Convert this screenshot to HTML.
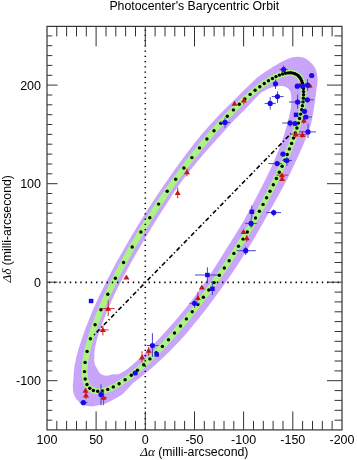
<!DOCTYPE html>
<html><head><meta charset="utf-8"><title>Photocenter's Barycentric Orbit</title>
<style>html,body{margin:0;padding:0;background:#fff;}svg{display:block;}</style></head>
<body><svg xmlns="http://www.w3.org/2000/svg" width="357" height="460" viewBox="0 0 357 460"><path d="M72.84 386.57 L73.00 390.18 L73.34 392.39 L73.70 393.90 L74.88 396.79 L76.59 399.40 L78.78 401.62 L81.26 403.32 L84.93 405.09 L86.57 405.68 L88.27 406.10 L91.30 406.38 L95.03 406.10 L101.06 404.79 L104.14 403.88 L107.27 402.66 L110.68 401.04 L117.17 397.52 L121.26 395.03 L122.73 393.88 L124.63 391.97 L133.02 382.94 L139.72 377.97 L145.89 373.04 L152.11 367.73 L159.51 361.05 L168.98 351.95 L178.87 341.79 L183.74 336.55 L185.91 334.03 L198.44 318.83 L209.08 305.15 L219.67 290.82 L228.21 278.71 L235.69 267.69 L243.76 255.33 L250.84 244.05 L259.14 229.86 L264.71 219.89 L269.01 211.89 L278.43 195.57 L285.58 182.35 L290.20 173.21 L293.90 165.55 L297.26 158.28 L302.50 146.41 L305.37 139.58 L307.99 132.91 L310.81 125.07 L312.50 117.10 L314.95 101.77 L315.43 97.50 L316.20 92.26 L316.53 88.63 L317.34 83.73 L317.59 80.02 L317.39 76.56 L316.98 73.84 L316.19 70.72 L315.35 68.58 L314.20 66.58 L312.00 63.79 L309.88 61.64 L307.78 59.90 L306.01 58.78 L303.90 57.83 L302.22 57.31 L299.94 56.93 L297.42 56.85 L294.53 57.04 L291.60 57.55 L289.42 58.19 L286.85 59.23 L281.21 62.09 L273.93 66.26 L264.25 72.43 L257.50 77.27 L253.52 80.95 L248.58 85.83 L243.05 91.05 L233.99 100.27 L224.99 109.00 L217.51 116.72 L209.83 125.04 L202.11 133.82 L195.42 142.11 L185.97 154.36 L176.47 167.24 L163.45 185.83 L155.09 198.21 L146.13 212.05 L136.71 227.33 L124.36 248.23 L115.90 263.25 L107.38 279.39 L99.08 296.33 L92.98 309.85 L88.13 321.63 L85.58 328.36 L81.14 340.92 L78.28 349.70 L75.97 358.61 L74.37 367.05 L73.79 372.13 L73.29 380.76 L72.88 384.61ZM94.20 360.42 L94.34 354.05 L94.83 348.86 L96.70 340.17 L98.39 334.71 L101.80 324.82 L106.23 313.37 L111.44 301.12 L116.65 289.85 L124.04 275.45 L131.34 262.09 L138.36 249.86 L151.49 227.78 L158.24 216.74 L166.08 204.42 L173.25 193.57 L181.49 181.59 L189.06 171.84 L196.93 162.11 L204.79 152.77 L212.52 143.95 L233.08 121.34 L240.06 114.13 L247.55 106.84 L254.24 99.56 L260.15 93.56 L262.59 91.83 L266.21 89.63 L269.70 88.09 L274.17 86.67 L277.23 86.26 L280.59 86.04 L282.32 86.06 L284.73 86.48 L285.99 86.97 L287.15 87.64 L288.53 88.80 L289.64 90.20 L290.46 91.80 L290.95 93.53 L291.27 96.74 L291.35 100.33 L291.17 104.69 L290.79 108.66 L289.79 113.72 L288.38 119.62 L286.19 127.79 L283.97 135.20 L280.77 144.75 L275.28 158.22 L269.83 170.41 L262.81 184.74 L251.57 206.40 L243.20 221.68 L234.20 236.59 L225.81 249.78 L216.82 264.29 L208.89 276.49 L201.70 286.81 L191.54 300.73 L185.99 307.79 L174.63 321.44 L164.25 333.12 L158.83 338.91 L148.82 349.24 L140.28 357.70 L131.45 365.72 L124.24 371.18 L120.09 373.50 L118.92 373.97 L117.69 374.26 L116.43 374.38 L113.52 374.30 L112.02 374.41 L110.68 374.68 L108.17 375.46 L106.83 375.66 L105.04 375.60 L102.88 375.03 L100.92 373.95 L99.28 372.42 L98.51 371.32 L97.34 368.95 L95.72 366.35 L95.16 365.14 L94.77 363.77Z" fill="#c8a4fa" fill-rule="evenodd"/>
<path d="M90.5 338.5 L91.2 336.4 L91.8 334.3 L92.5 332.2 L93.3 330.0 L94.0 327.8 L94.8 325.5 L95.6 323.3 L96.5 321.0 L97.4 318.7 L98.3 316.3 L99.2 313.9 L100.2 311.6 L101.2 309.1 L102.2 306.7 L103.3 304.2 L104.4 301.7 L105.5 299.2 L106.6 296.7 L107.8 294.1 L109.0 291.6 L110.2 289.0 L111.4 286.4 L112.7 283.8 L114.0 281.1 L115.3 278.5 L116.6 275.8 L118.0 273.1 L119.4 270.4 L120.8 267.7 L122.2 265.0 L123.7 262.3 L125.2 259.6 L126.7 256.8 L128.2 254.1 L129.7 251.3 L131.3 248.6 L132.8 245.8 L134.4 243.0 L136.1 240.2 L137.7 237.5 L139.3 234.7 L141.0 231.9 L142.7 229.1 L144.4 226.4 L146.1 223.6 L147.8 220.8 L149.5 218.0 L151.3 215.3 L153.1 212.5 L154.8 209.7 L156.6 207.0 L158.4 204.3 L160.3 201.5 L162.1 198.8 L163.9 196.1 L165.8 193.4 L167.6 190.7 L169.5 188.0 L171.3 185.4 L173.2 182.7 L175.1 180.1 L177.0 177.5 L178.9 174.9 L180.8 172.3 L182.7 169.7 L184.6 167.2 L186.5 164.6 L188.4 162.1 L190.3 159.6 L192.2 157.2 L194.1 154.7 L196.0 152.3 L197.9 149.9 L199.8 147.5 L201.7 145.2 L203.6 142.9 L205.6 140.6 L207.5 138.3 L209.3 136.1 L211.2 133.9 L213.1 131.7 L215.0 129.6 L216.9 127.5 L218.7 125.4 L220.6 123.3 L222.5 121.3 L224.3 119.4 L226.1 117.4 L227.9 115.5 L229.8 113.6 L231.6 111.8 L233.4 110.0 L235.1 108.2 L236.9 106.5 L238.7 104.8 L240.4 103.1 L242.1 101.5 L243.8 100.0 L245.5 98.4 L247.2 96.9 L248.9 95.5 L250.5 94.1 L252.1 92.7 L253.8 91.4 L255.3 90.1 L256.9 88.9 L258.5 87.7 L260.0 86.5 L261.5 85.4 L263.0 84.4 L264.5 83.3 L266.0 82.4 L267.4 81.5 L268.8 80.6 L270.2 79.7 L271.5 79.0 L272.9 78.2 L274.2 77.5 L275.5 76.9 L276.8 76.3 L278.0 75.7 L279.2 75.2 L280.4 74.8 L281.6 74.4 L282.7 74.0 L283.8 73.7 L284.9 73.4 L286.0 73.2 L287.0 73.0 L288.0 72.9 L288.9 72.8 L289.9 72.8 L290.8 72.9 L291.7 72.9 L292.5 73.1 L293.4 73.2 L294.2 73.4 L294.9 73.7 L295.6 74.0 L296.3 74.4 L297.0 74.8 L297.7 75.3 L298.3 75.8 L298.8 76.3 L299.4 76.9 L299.9 77.6 L300.4 78.3 L300.8 79.0 L301.2 79.8 L301.6 80.7 L302.0 81.6 L302.3 82.5 L302.5 83.5 L302.8 84.5 L303.0 85.5 L303.2 86.7 L303.3 87.8 L303.5 89.0 L303.5 90.3 L303.6 91.5 L303.6 92.9 L303.6 94.2 L303.5 95.7 L303.5 97.1 L303.3 98.6 L303.2 100.1 L303.0 101.7 L302.8 103.3 L302.5 105.0 L302.3 106.7 L301.9 108.4 L301.6 110.2 L301.2 112.0 L300.8 113.8 L300.3 115.7 L299.9 117.6 L299.4 119.6 L298.8 121.6 L298.2 123.6 L297.6 125.6 L297.0 127.7 L296.3 129.8 L295.6 132.0 L294.9 134.2 L294.1 136.4 L293.3 138.6 L292.5 140.9 L291.7 143.2 L290.8 145.5 L289.9 147.8 L288.9 150.2 L287.9 152.6 L287.0 155.0 L285.9 157.5 L284.9 159.9 L283.8 162.4 L282.7 164.9 L281.5 167.4 L280.4 170.0 L279.2 172.6 L278.0 175.2 L276.7 177.8 L275.5 180.4 L274.2 183.0 L272.8 185.7 L271.5 188.3 L270.1 191.0 L268.8 193.7 L267.3 196.4 L265.9 199.1 L264.5 201.8 L263.0 204.6 L261.5 207.3 L260.0 210.1 L258.4 212.8 L256.9 215.6 L255.3 218.4 L253.7 221.1 L252.1 223.9 L250.5 226.7 L248.8 229.5 L247.2 232.2 L245.5 235.0 L243.8 237.8 L242.1 240.6 L240.3 243.3 L238.6 246.1 L236.8 248.9 L235.1 251.6 L233.3 254.4 L231.5 257.1 L229.7 259.9 L227.9 262.6 L226.1 265.3 L224.2 268.0 L222.4 270.8 L220.5 273.4 L218.7 276.1 L216.8 278.8 L214.9 281.4 L213.1 284.1 L211.2 286.7 L209.3 289.3 L207.4 291.9 L205.5 294.4 L203.6 297.0 L201.7 299.5 L199.8 302.0 L197.9 304.5 L196.0 307.0 L194.0 309.4 L192.1 311.8 L190.2 314.2 L188.3 316.6 L186.4 318.9 L184.5 321.3 L182.6 323.5 L180.7 325.8 L178.8 328.0 L176.9 330.2 L175.0 332.4 L173.1 334.6 L171.3 336.7 L169.4 338.7 L167.5 340.8 L165.7 342.8 L163.9 344.8 L162.0 346.7 L160.2 348.6 L158.4 350.5 L156.6 352.4 L154.8 354.2 L153.0 355.9 L151.2 357.7 L149.5 359.3 L147.8 361.0 L146.0 362.6 L144.3 364.2 L142.6 365.7 L140.9 367.2 L139.3 368.7 L137.6 370.1 L136.0 371.4 L134.4 372.8 L132.8 374.0 L131.2 375.3 L129.7 376.5 L128.1 377.6 L126.6 378.7 L125.1 379.8 L123.6 380.8 L122.2 381.8 L120.8 382.7 L119.4 383.6 L118.0 384.4 L116.6 385.2 L115.3 385.9 L113.9 386.6 L112.7 387.3 L111.4 387.9 L110.1 388.4 L108.9 388.9 L107.7 389.4 L106.6 389.8 L105.4 390.1 L104.3 390.5 L103.2 390.7 L102.2 390.9 L101.2 391.1 L100.2 391.2 L99.2 391.3 L98.3 391.3 L97.3 391.3 L96.5 391.2 L95.6 391.1 L94.8 390.9 L94.0 390.7 L93.2 390.4 L92.5 390.1 L91.8 389.7 L91.1 389.3 L90.5 388.9 L89.9 388.4 L89.3 387.8 L88.8 387.2 L88.3 386.5 L87.8 385.8 L87.3 385.1 L86.9 384.3 L86.5 383.5 L86.2 382.6 L85.9 381.7 L85.6 380.7 L85.4 379.7 L85.1 378.6 L85.0 377.5 L84.8 376.3 L84.7 375.1 L84.6 373.9 L84.6 372.6 L84.5 371.3 L84.6 369.9 L84.6 368.5 L84.7 367.0 L84.8 365.5 L85.0 364.0 L85.1 362.4 L85.4 360.8 L85.6 359.2 L85.9 357.5 L86.2 355.7 L86.6 354.0 L86.9 352.1 L87.4 350.3 L87.8 348.4 L88.3 346.5 L88.8 344.6 L89.3 342.6 L89.9 340.6 Z" fill="none" stroke="#aaf582" stroke-width="6"/>
<line x1="47" y1="282.4" x2="342" y2="282.4" stroke="#000" stroke-width="1.6" stroke-dasharray="1.4 3.85" stroke-dashoffset="-1.8"/>
<line x1="145.3" y1="26.4" x2="145.3" y2="430" stroke="#000" stroke-width="1.6" stroke-dasharray="1.4 3.85" stroke-dashoffset="-3"/>
<line x1="94.0" y1="335.0" x2="291.0" y2="133.6" stroke="#000" stroke-width="1.6" stroke-dasharray="1.3 2.4 4.4 2.3"/>
<g fill="#000"><circle cx="90.4" cy="338.8" r="1.7"/><circle cx="95.1" cy="324.8" r="1.7"/><circle cx="100.9" cy="309.8" r="1.7"/><circle cx="107.8" cy="294.2" r="1.7"/><circle cx="115.4" cy="278.3" r="1.7"/><circle cx="123.6" cy="262.5" r="1.7"/><circle cx="132.2" cy="247.0" r="1.7"/><circle cx="140.9" cy="232.0" r="1.7"/><circle cx="149.8" cy="217.7" r="1.7"/><circle cx="158.6" cy="204.1" r="1.7"/><circle cx="167.2" cy="191.3" r="1.7"/><circle cx="175.7" cy="179.3" r="1.7"/><circle cx="183.9" cy="168.0" r="1.7"/><circle cx="191.9" cy="157.6" r="1.7"/><circle cx="199.5" cy="147.9" r="1.7"/><circle cx="206.9" cy="139.0" r="1.7"/><circle cx="214.0" cy="130.7" r="1.7"/><circle cx="220.8" cy="123.2" r="1.7"/><circle cx="227.3" cy="116.2" r="1.7"/><circle cx="233.4" cy="109.9" r="1.7"/><circle cx="239.3" cy="104.2" r="1.7"/><circle cx="244.9" cy="99.0" r="1.7"/><circle cx="250.1" cy="94.4" r="1.7"/><circle cx="255.1" cy="90.3" r="1.7"/><circle cx="259.8" cy="86.7" r="1.7"/><circle cx="264.3" cy="83.5" r="1.7"/><circle cx="268.5" cy="80.8" r="1.7"/><circle cx="272.4" cy="78.5" r="1.7"/><circle cx="276.0" cy="76.6" r="1.7"/><circle cx="279.4" cy="75.1" r="1.7"/><circle cx="282.6" cy="74.0" r="1.7"/><circle cx="285.5" cy="73.3" r="1.7"/><circle cx="288.2" cy="72.9" r="1.7"/><circle cx="290.7" cy="72.8" r="1.7"/><circle cx="292.9" cy="73.1" r="1.7"/><circle cx="294.9" cy="73.7" r="1.7"/><circle cx="296.7" cy="74.6" r="1.7"/><circle cx="298.3" cy="75.8" r="1.7"/><circle cx="299.6" cy="77.3" r="1.7"/><circle cx="300.8" cy="79.0" r="1.7"/><circle cx="301.7" cy="81.0" r="1.7"/><circle cx="302.5" cy="83.3" r="1.7"/><circle cx="303.1" cy="85.8" r="1.7"/><circle cx="303.4" cy="88.6" r="1.7"/><circle cx="303.6" cy="91.6" r="1.7"/><circle cx="303.6" cy="94.8" r="1.7"/><circle cx="303.4" cy="98.2" r="1.7"/><circle cx="303.0" cy="101.9" r="1.7"/><circle cx="302.4" cy="105.7" r="1.7"/><circle cx="301.7" cy="109.8" r="1.7"/><circle cx="300.7" cy="114.1" r="1.7"/><circle cx="299.6" cy="118.5" r="1.7"/><circle cx="298.4" cy="123.1" r="1.7"/><circle cx="296.9" cy="128.0" r="1.7"/><circle cx="295.3" cy="132.9" r="1.7"/><circle cx="293.5" cy="138.1" r="1.7"/><circle cx="291.6" cy="143.4" r="1.7"/><circle cx="289.4" cy="148.9" r="1.7"/><circle cx="287.2" cy="154.5" r="1.7"/><circle cx="284.7" cy="160.3" r="1.7"/><circle cx="282.1" cy="166.2" r="1.7"/><circle cx="279.3" cy="172.3" r="1.7"/><circle cx="276.4" cy="178.5" r="1.7"/><circle cx="273.3" cy="184.8" r="1.7"/><circle cx="270.0" cy="191.2" r="1.7"/><circle cx="266.6" cy="197.7" r="1.7"/><circle cx="263.1" cy="204.4" r="1.7"/><circle cx="259.4" cy="211.2" r="1.7"/><circle cx="255.5" cy="218.0" r="1.7"/><circle cx="251.5" cy="224.9" r="1.7"/><circle cx="247.3" cy="232.0" r="1.7"/><circle cx="243.0" cy="239.1" r="1.7"/><circle cx="238.5" cy="246.2" r="1.7"/><circle cx="233.9" cy="253.4" r="1.7"/><circle cx="229.2" cy="260.7" r="1.7"/><circle cx="224.3" cy="268.0" r="1.7"/><circle cx="219.3" cy="275.3" r="1.7"/><circle cx="214.1" cy="282.6" r="1.7"/><circle cx="208.8" cy="290.0" r="1.7"/><circle cx="203.4" cy="297.3" r="1.7"/><circle cx="197.8" cy="304.5" r="1.7"/><circle cx="192.2" cy="311.8" r="1.7"/><circle cx="186.4" cy="318.9" r="1.7"/><circle cx="180.5" cy="326.0" r="1.7"/><circle cx="174.5" cy="333.0" r="1.7"/><circle cx="168.5" cy="339.8" r="1.7"/><circle cx="162.4" cy="346.4" r="1.7"/><circle cx="156.2" cy="352.8" r="1.7"/><circle cx="149.9" cy="358.9" r="1.7"/><circle cx="143.7" cy="364.8" r="1.7"/><circle cx="137.5" cy="370.2" r="1.7"/><circle cx="131.3" cy="375.2" r="1.7"/><circle cx="125.1" cy="379.8" r="1.7"/><circle cx="119.1" cy="383.7" r="1.7"/><circle cx="113.3" cy="386.9" r="1.7"/><circle cx="107.7" cy="389.4" r="1.7"/><circle cx="102.5" cy="390.9" r="1.7"/><circle cx="97.7" cy="391.3" r="1.7"/><circle cx="93.4" cy="390.5" r="1.7"/><circle cx="89.8" cy="388.3" r="1.7"/><circle cx="87.0" cy="384.5" r="1.7"/><circle cx="85.2" cy="379.0" r="1.7"/><circle cx="84.5" cy="371.6" r="1.7"/><circle cx="85.1" cy="362.4" r="1.7"/><circle cx="87.1" cy="351.4" r="1.7"/></g>
<g stroke-width="1"><line x1="86.0" y1="388.4" x2="86.0" y2="399.0" stroke="#c83030"/><line x1="103.6" y1="390.5" x2="103.6" y2="405.2" stroke="#c83030"/><line x1="101.2" y1="397.6" x2="107.0" y2="397.6" stroke="#c83030"/><line x1="108.2" y1="300.2" x2="108.2" y2="316.1" stroke="#c83030"/><line x1="102.0" y1="308.6" x2="114.6" y2="308.6" stroke="#c83030"/><line x1="102.9" y1="325.4" x2="102.9" y2="335.5" stroke="#c83030"/><line x1="98.7" y1="329.9" x2="108.7" y2="329.9" stroke="#c83030"/><line x1="177.7" y1="187.8" x2="177.7" y2="198.3" stroke="#c83030"/><line x1="187.0" y1="168.6" x2="187.0" y2="176.4" stroke="#c83030"/><line x1="243.8" y1="97.6" x2="243.8" y2="104.4" stroke="#c83030"/><line x1="148.6" y1="347.0" x2="148.6" y2="355.6" stroke="#c83030"/><line x1="142.0" y1="351.2" x2="142.0" y2="362.4" stroke="#c83030"/><line x1="306.0" y1="85.6" x2="312.0" y2="85.6" stroke="#c83030"/><line x1="303.8" y1="118.0" x2="303.8" y2="124.0" stroke="#c83030"/><line x1="295.7" y1="130.8" x2="295.7" y2="138.0" stroke="#c83030"/><line x1="291.2" y1="134.2" x2="299.6" y2="134.2" stroke="#c83030"/><line x1="302.4" y1="131.0" x2="302.4" y2="138.0" stroke="#c83030"/><line x1="299.0" y1="134.7" x2="306.0" y2="134.7" stroke="#c83030"/><line x1="276.3" y1="175.1" x2="288.1" y2="175.1" stroke="#c83030"/><line x1="246.8" y1="235.2" x2="246.8" y2="241.9" stroke="#c83030"/><line x1="197.9" y1="292.3" x2="197.9" y2="301.3" stroke="#c83030"/><line x1="79.8" y1="402.7" x2="87.4" y2="402.7" stroke="#4a40d0"/><line x1="101.0" y1="384.3" x2="101.0" y2="405.2" stroke="#4a40d0"/><line x1="152.4" y1="333.2" x2="152.4" y2="357.0" stroke="#4a40d0"/><line x1="146.8" y1="345.5" x2="158.6" y2="345.5" stroke="#4a40d0"/><line x1="225.0" y1="117.8" x2="225.0" y2="127.9" stroke="#4a40d0"/><line x1="220.3" y1="122.4" x2="230.3" y2="122.4" stroke="#4a40d0"/><line x1="283.6" y1="65.5" x2="283.6" y2="73.5" stroke="#4a40d0"/><line x1="279.6" y1="69.5" x2="287.6" y2="69.5" stroke="#4a40d0"/><line x1="275.5" y1="79.5" x2="275.5" y2="89.0" stroke="#4a40d0"/><line x1="277.5" y1="91.4" x2="277.5" y2="102.8" stroke="#4a40d0"/><line x1="271.8" y1="96.6" x2="283.6" y2="96.6" stroke="#4a40d0"/><line x1="270.2" y1="97.2" x2="270.2" y2="109.6" stroke="#4a40d0"/><line x1="264.6" y1="103.4" x2="275.8" y2="103.4" stroke="#4a40d0"/><line x1="307.6" y1="79.2" x2="307.6" y2="90.7" stroke="#4a40d0"/><line x1="302.9" y1="99.8" x2="313.6" y2="99.8" stroke="#4a40d0"/><line x1="297.6" y1="94.6" x2="297.6" y2="108.6" stroke="#4a40d0"/><line x1="288.9" y1="102.0" x2="302.9" y2="102.0" stroke="#4a40d0"/><line x1="302.4" y1="117.0" x2="312.0" y2="117.0" stroke="#4a40d0"/><line x1="290.1" y1="120.2" x2="290.1" y2="126.9" stroke="#4a40d0"/><line x1="282.2" y1="123.0" x2="296.8" y2="123.0" stroke="#4a40d0"/><line x1="308.0" y1="123.5" x2="308.0" y2="138.0" stroke="#4a40d0"/><line x1="299.0" y1="131.9" x2="315.9" y2="131.9" stroke="#4a40d0"/><line x1="280.2" y1="154.1" x2="286.9" y2="154.1" stroke="#4a40d0"/><line x1="286.9" y1="156.9" x2="286.9" y2="165.9" stroke="#4a40d0"/><line x1="282.4" y1="160.5" x2="291.9" y2="160.5" stroke="#4a40d0"/><line x1="268.4" y1="163.6" x2="281.8" y2="163.6" stroke="#4a40d0"/><line x1="251.1" y1="218.6" x2="251.1" y2="228.0" stroke="#4a40d0"/><line x1="245.1" y1="223.4" x2="256.8" y2="223.4" stroke="#4a40d0"/><line x1="273.7" y1="209.7" x2="273.7" y2="216.4" stroke="#4a40d0"/><line x1="266.3" y1="212.6" x2="281.0" y2="212.6" stroke="#4a40d0"/><line x1="245.7" y1="246.6" x2="245.7" y2="255.0" stroke="#4a40d0"/><line x1="236.5" y1="250.7" x2="255.8" y2="250.7" stroke="#4a40d0"/><line x1="194.6" y1="300.2" x2="194.6" y2="308.0" stroke="#4a40d0"/><line x1="189.5" y1="303.3" x2="199.6" y2="303.3" stroke="#4a40d0"/><line x1="212.4" y1="282.3" x2="212.4" y2="295.0" stroke="#4a40d0"/><line x1="251.8" y1="205.7" x2="251.8" y2="218.6" stroke="#4a40d0"/><line x1="207.4" y1="267.3" x2="207.4" y2="282.5" stroke="#4a40d0"/><line x1="195.0" y1="275.0" x2="218.0" y2="275.0" stroke="#4a40d0"/></g>
<path d="M85.5 387.8 L88.5 392.7 L82.5 392.7 Z" fill="#c81414"/><path d="M86.0 392.5 L89.0 397.4 L83.0 397.4 Z" fill="#c81414"/><path d="M103.6 394.9 L106.6 399.8 L100.6 399.8 Z" fill="#c81414"/><path d="M108.2 305.9 L111.2 310.8 L105.2 310.8 Z" fill="#c81414"/><path d="M102.9 327.2 L105.9 332.1 L99.9 332.1 Z" fill="#c81414"/><path d="M126.4 274.6 L129.4 279.5 L123.4 279.5 Z" fill="#c81414"/><path d="M177.7 190.1 L180.7 195.0 L174.7 195.0 Z" fill="#c81414"/><path d="M187.0 169.3 L190.0 174.2 L184.0 174.2 Z" fill="#c81414"/><path d="M234.5 100.8 L237.5 105.7 L231.5 105.7 Z" fill="#c81414"/><path d="M243.8 97.5 L246.8 102.4 L240.8 102.4 Z" fill="#c81414"/><path d="M148.6 347.9 L151.6 352.8 L145.6 352.8 Z" fill="#c81414"/><path d="M142.0 354.5 L145.0 359.4 L139.0 359.4 Z" fill="#c81414"/><path d="M300.0 82.3 L303.0 87.2 L297.0 87.2 Z" fill="#c81414"/><path d="M309.6 82.9 L312.6 87.8 L306.6 87.8 Z" fill="#c81414"/><path d="M303.8 117.5 L306.8 122.4 L300.8 122.4 Z" fill="#c81414"/><path d="M295.7 131.5 L298.7 136.4 L292.7 136.4 Z" fill="#c81414"/><path d="M302.4 132.0 L305.4 136.9 L299.4 136.9 Z" fill="#c81414"/><path d="M281.9 172.4 L284.9 177.3 L278.9 177.3 Z" fill="#c81414"/><path d="M282.1 176.1 L285.1 181.0 L279.1 181.0 Z" fill="#c81414"/><path d="M243.5 229.1 L246.5 234.0 L240.5 234.0 Z" fill="#c81414"/><path d="M246.8 235.3 L249.8 240.2 L243.8 240.2 Z" fill="#c81414"/><path d="M201.8 284.5 L204.8 289.4 L198.8 289.4 Z" fill="#c81414"/><path d="M197.9 295.2 L200.9 300.1 L194.9 300.1 Z" fill="#c81414"/><circle cx="83.4" cy="402.7" r="2.6" fill="#1a0ae6"/><circle cx="101.0" cy="394.5" r="2.6" fill="#1a0ae6"/><circle cx="152.4" cy="345.5" r="2.6" fill="#1a0ae6"/><circle cx="135.2" cy="373.0" r="2.6" fill="#1a0ae6"/><circle cx="225.0" cy="122.4" r="2.6" fill="#1a0ae6"/><circle cx="283.6" cy="69.5" r="2.6" fill="#1a0ae6"/><circle cx="275.5" cy="83.8" r="2.6" fill="#1a0ae6"/><circle cx="277.5" cy="96.6" r="2.6" fill="#1a0ae6"/><circle cx="270.2" cy="103.4" r="2.6" fill="#1a0ae6"/><circle cx="311.7" cy="75.5" r="2.6" fill="#1a0ae6"/><circle cx="297.3" cy="86.2" r="2.6" fill="#1a0ae6"/><circle cx="302.7" cy="86.2" r="2.6" fill="#1a0ae6"/><circle cx="307.6" cy="85.2" r="2.6" fill="#1a0ae6"/><circle cx="307.4" cy="99.8" r="2.6" fill="#1a0ae6"/><circle cx="297.6" cy="102.0" r="2.6" fill="#1a0ae6"/><circle cx="304.5" cy="111.3" r="2.6" fill="#1a0ae6"/><circle cx="305.8" cy="117.0" r="2.6" fill="#1a0ae6"/><circle cx="290.1" cy="123.0" r="2.6" fill="#1a0ae6"/><circle cx="295.1" cy="123.5" r="2.6" fill="#1a0ae6"/><circle cx="308.0" cy="131.9" r="2.6" fill="#1a0ae6"/><circle cx="283.0" cy="154.1" r="2.6" fill="#1a0ae6"/><circle cx="286.9" cy="160.5" r="2.6" fill="#1a0ae6"/><circle cx="277.2" cy="163.6" r="2.6" fill="#1a0ae6"/><circle cx="251.1" cy="223.4" r="2.6" fill="#1a0ae6"/><circle cx="273.7" cy="212.6" r="2.6" fill="#1a0ae6"/><circle cx="245.7" cy="250.7" r="2.6" fill="#1a0ae6"/><circle cx="194.6" cy="303.3" r="2.6" fill="#1a0ae6"/><rect x="210.1" y="286.6" width="4.6" height="4.4" fill="#1a0ae6"/><rect x="293.8" y="112.6" width="4.6" height="4.4" fill="#1a0ae6"/><rect x="249.5" y="209.6" width="4.6" height="4.4" fill="#1a0ae6"/><rect x="205.1" y="272.8" width="4.6" height="4.4" fill="#1a0ae6"/><rect x="88.8" y="298.8" width="4.6" height="4.4" fill="#1a0ae6"/><rect x="154.4" y="352.3" width="4.6" height="4.4" fill="#1a0ae6"/>
<path d="M56.8 26.4v10M56.8 429.9v-9M66.6 26.4v10M66.6 429.9v-9M76.5 26.4v10M76.5 429.9v-9M86.3 26.4v10M86.3 429.9v-9M96.1 26.4v20M96.1 429.9v-18.5M106.0 26.4v10M106.0 429.9v-9M115.8 26.4v10M115.8 429.9v-9M125.6 26.4v10M125.6 429.9v-9M135.5 26.4v10M135.5 429.9v-9M145.3 26.4v20M145.3 429.9v-18.5M155.1 26.4v10M155.1 429.9v-9M165.0 26.4v10M165.0 429.9v-9M174.8 26.4v10M174.8 429.9v-9M184.6 26.4v10M184.6 429.9v-9M194.5 26.4v20M194.5 429.9v-18.5M204.3 26.4v10M204.3 429.9v-9M214.1 26.4v10M214.1 429.9v-9M224.0 26.4v10M224.0 429.9v-9M233.8 26.4v10M233.8 429.9v-9M243.6 26.4v20M243.6 429.9v-18.5M253.5 26.4v10M253.5 429.9v-9M263.3 26.4v10M263.3 429.9v-9M273.1 26.4v10M273.1 429.9v-9M283.0 26.4v10M283.0 429.9v-9M292.8 26.4v20M292.8 429.9v-18.5M302.6 26.4v10M302.6 429.9v-9M312.5 26.4v10M312.5 429.9v-9M322.3 26.4v10M322.3 429.9v-9M332.1 26.4v10M332.1 429.9v-9M47.0 420.2h5.3M342.0 420.2h-7.5M47.0 410.3h5.3M342.0 410.3h-7.5M47.0 400.4h5.3M342.0 400.4h-7.5M47.0 390.6h5.3M342.0 390.6h-7.5M47.0 380.7h10.5M342.0 380.7h-15M47.0 370.9h5.3M342.0 370.9h-7.5M47.0 361.0h5.3M342.0 361.0h-7.5M47.0 351.2h5.3M342.0 351.2h-7.5M47.0 341.3h5.3M342.0 341.3h-7.5M47.0 331.5h5.3M342.0 331.5h-7.5M47.0 321.6h5.3M342.0 321.6h-7.5M47.0 311.8h5.3M342.0 311.8h-7.5M47.0 301.9h5.3M342.0 301.9h-7.5M47.0 292.1h5.3M342.0 292.1h-7.5M47.0 282.2h10.5M342.0 282.2h-15M47.0 272.3h5.3M342.0 272.3h-7.5M47.0 262.5h5.3M342.0 262.5h-7.5M47.0 252.6h5.3M342.0 252.6h-7.5M47.0 242.8h5.3M342.0 242.8h-7.5M47.0 232.9h5.3M342.0 232.9h-7.5M47.0 223.1h5.3M342.0 223.1h-7.5M47.0 213.2h5.3M342.0 213.2h-7.5M47.0 203.4h5.3M342.0 203.4h-7.5M47.0 193.5h5.3M342.0 193.5h-7.5M47.0 183.7h10.5M342.0 183.7h-15M47.0 173.8h5.3M342.0 173.8h-7.5M47.0 164.0h5.3M342.0 164.0h-7.5M47.0 154.1h5.3M342.0 154.1h-7.5M47.0 144.2h5.3M342.0 144.2h-7.5M47.0 134.4h5.3M342.0 134.4h-7.5M47.0 124.5h5.3M342.0 124.5h-7.5M47.0 114.7h5.3M342.0 114.7h-7.5M47.0 104.8h5.3M342.0 104.8h-7.5M47.0 95.0h5.3M342.0 95.0h-7.5M47.0 85.1h10.5M342.0 85.1h-15M47.0 75.3h5.3M342.0 75.3h-7.5M47.0 65.4h5.3M342.0 65.4h-7.5M47.0 55.6h5.3M342.0 55.6h-7.5M47.0 45.7h5.3M342.0 45.7h-7.5M47.0 35.9h5.3M342.0 35.9h-7.5" stroke="#333" stroke-width="1" fill="none"/><rect x="47.0" y="26.4" width="295.0" height="403.5" fill="none" stroke="#3a3a3a" stroke-width="1.25"/>
<text x="194.3" y="10" font-family="Liberation Sans, Arial, sans-serif" font-size="12.3" text-anchor="middle">Photocenter's Barycentric Orbit</text><text x="47.0" y="443.8" font-family="Liberation Sans, Arial, sans-serif" font-size="12.5" text-anchor="middle">100</text><text x="96.1" y="443.8" font-family="Liberation Sans, Arial, sans-serif" font-size="12.5" text-anchor="middle">50</text><text x="145.3" y="443.8" font-family="Liberation Sans, Arial, sans-serif" font-size="12.5" text-anchor="middle">0</text><text x="194.5" y="443.8" font-family="Liberation Sans, Arial, sans-serif" font-size="12.5" text-anchor="middle">-50</text><text x="243.6" y="443.8" font-family="Liberation Sans, Arial, sans-serif" font-size="12.5" text-anchor="middle">-100</text><text x="292.8" y="443.8" font-family="Liberation Sans, Arial, sans-serif" font-size="12.5" text-anchor="middle">-150</text><text x="342.0" y="443.8" font-family="Liberation Sans, Arial, sans-serif" font-size="12.5" text-anchor="middle">-200</text><text x="41.0" y="89.7" font-family="Liberation Sans, Arial, sans-serif" font-size="12.5" text-anchor="end">200</text><text x="41.0" y="188.3" font-family="Liberation Sans, Arial, sans-serif" font-size="12.5" text-anchor="end">100</text><text x="41.0" y="286.8" font-family="Liberation Sans, Arial, sans-serif" font-size="12.5" text-anchor="end">0</text><text x="41.0" y="385.3" font-family="Liberation Sans, Arial, sans-serif" font-size="12.5" text-anchor="end">-100</text><text x="194.3" y="456" font-family="Liberation Sans, Arial, sans-serif" font-size="12.3" text-anchor="middle"><tspan font-family="Liberation Serif, serif" font-style="italic" font-size="13.2">&#916;&#945;</tspan> (milli-arcsecond)</text><text transform="translate(11,228.8) rotate(-90)" x="0" y="0" font-family="Liberation Sans, Arial, sans-serif" font-size="12.3" text-anchor="middle"><tspan font-family="Liberation Serif, serif" font-style="italic" font-size="13.2">&#916;&#948;</tspan> (milli-arcsecond)</text></svg></body></html>
